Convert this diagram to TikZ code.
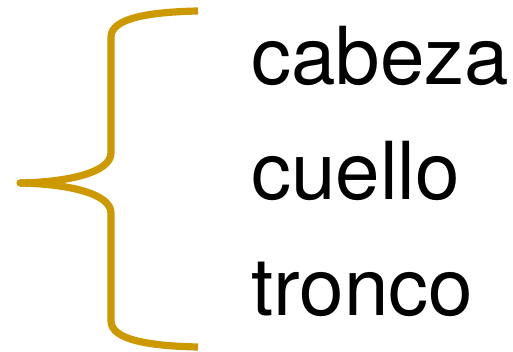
\documentclass[tikz,border=0pt]{standalone}
\usepackage{fontspec}
\setmainfont{TeX Gyre Heros}
\usetikzlibrary{positioning}
\definecolor{bracegold}{HTML}{CC9900}

\begin{document}
\begin{tikzpicture}[x=0.75pt, y=-0.75pt,
    word/.style={anchor=base west, inner sep=0pt, font=\fontsize{60}{72}\selectfont}]

    \useasboundingbox (0,0) rectangle (513,352);

    % Brace
    \draw[bracegold, line width=5.4pt, line join=round]
        (198,11) .. controls (150,12) and (111,18) .. (111,37)
        -- (111,153)
        .. controls (111,172) and (70,182) .. (20,183);
    \draw[bracegold, line width=5.4pt, line join=round]
        (198,347) .. controls (150,346) and (111,340) .. (111,321)
        -- (111,213)
        .. controls (111,194) and (70,184) .. (20,183);
    \fill[bracegold] (20,183) circle (2.7pt);

    % Words
    \node[word] (cabeza) at (251,85) {cabeza};
    \node[word] (cuello) at (251,200) {cuello};
    \node[word] (tronco) at (251,315) {tronco};

\end{tikzpicture}
\end{document}
